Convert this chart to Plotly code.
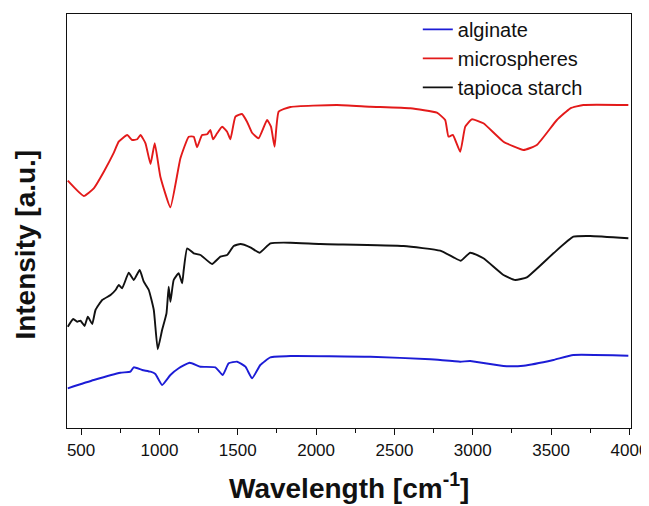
import plotly.graph_objects as go

# Wavenumber (cm-1) and intensity (a.u., arbitrary offset units)
micro_x = [415, 517, 581, 645, 709, 740, 794, 826, 858, 879, 911, 943, 970, 1006, 1070, 1134,
           1187, 1219, 1240, 1272, 1304, 1325, 1342, 1368, 1400, 1432, 1453, 1485, 1527, 1559,
           1591, 1633, 1687, 1712, 1735, 1761, 1836, 2133, 2346, 2601, 2771, 2824, 2845, 2873,
           2920, 2952, 2994, 3068, 3196, 3324, 3409, 3537, 3623, 3706, 3993]
micro_y = [247.3, 232, 239.7, 256.3, 275.3, 286.3, 293, 288, 288.7, 293, 284.7, 264, 284.7,
           251.3, 220.7, 269.7, 291.3, 291.3, 280.7, 293, 293.7, 298, 288.7, 294.7, 301.3,
           296.3, 288.7, 311.3, 314, 306.3, 295.3, 289.7, 308, 301.3, 281.3, 316.3, 321, 323,
           321.3, 319.7, 315.3, 308, 291.3, 293, 276.3, 301.3, 308.7, 304.7, 286.3, 278, 283,
           308, 319.7, 323, 323]

starch_x = [415, 450, 475, 496, 522, 543, 571, 592, 635, 688, 720, 741, 762, 804, 836, 874,
            900, 932, 964, 989, 1017, 1045, 1059, 1070, 1091, 1123, 1145, 1155, 1177, 1219,
            1262, 1336, 1389, 1432, 1474, 1517, 1580, 1640, 1708, 1836, 2027, 2558, 2792,
            2877, 2924, 2984, 3068, 3196, 3271, 3345, 3515, 3642, 3749, 3993]
starch_y = [101.3, 109, 106.3, 107.3, 102, 111.3, 104, 118, 128, 133, 138, 143, 139.7, 155.3,
            148, 158, 146.3, 138, 118, 78.7, 98, 114.7, 141.3, 126.3, 148, 154.7, 144.7, 158,
            179.7, 174.7, 173, 164, 171.3, 173, 182, 184, 180.7, 175.3, 184.7, 185.3, 184, 182,
            177.3, 170.7, 167.3, 175.3, 169.7, 153, 148, 150.7, 174.7, 191.3, 192, 189.7]

alg_x = [415, 581, 751, 815, 836, 890, 943, 974, 1017, 1070, 1123, 1193, 1262, 1357, 1404,
         1442, 1496, 1549, 1591, 1644, 1708, 1836, 2346, 2729, 2920, 2984, 3196, 3324, 3515,
         3642, 3993]
alg_y = [39.7, 48, 55.3, 56.3, 60.7, 58, 56.3, 54, 43, 53, 59.7, 65.3, 61.3, 60.7, 53,
         64.7, 66.3, 61.3, 49.7, 63, 70.7, 72, 71.3, 68.7, 66.3, 67, 62, 62.3, 68, 73, 72.3]

x_ticks = [500, 1000, 1500, 2000, 2500, 3000, 3500, 4000]
x_minor = [750, 1250, 1750, 2250, 2750, 3250, 3750]

fig = go.Figure()
fig.add_trace(go.Scatter(x=alg_x, y=alg_y, mode="lines", name="alginate",
                         line=dict(color="#1c1cd6", width=1.9, shape="spline", smoothing=0.4)))
fig.add_trace(go.Scatter(x=micro_x, y=micro_y, mode="lines", name="microspheres",
                         line=dict(color="#e31a1a", width=1.9, shape="spline", smoothing=0.4)))
fig.add_trace(go.Scatter(x=starch_x, y=starch_y, mode="lines", name="tapioca starch",
                         line=dict(color="#111111", width=1.9, shape="spline", smoothing=0.4)))

# page body has an 8px margin, so the figure is sized/offset to compensate
fig.update_layout(
    width=641, height=498,
    margin=dict(l=59, r=18, t=6, b=78, autoexpand=False),
    paper_bgcolor="white", plot_bgcolor="white",
    font=dict(family="Liberation Sans, Arial, sans-serif", color="#111111"),
    showlegend=True,
    legend=dict(x=0.622, y=1.01, xanchor="left", yanchor="top",
                bgcolor="rgba(0,0,0,0)", font=dict(size=20),
                tracegroupgap=0),
    xaxis=dict(range=[410, 4010], showgrid=False, zeroline=False, automargin=False,
               showline=True, linecolor="#111111", linewidth=1.3, mirror=True,
               ticks="outside", ticklen=6, tickwidth=1.3, tickcolor="#111111",
               tickvals=x_ticks, ticktext=[str(v) for v in x_ticks],
               tickfont=dict(size=17),
               minor=dict(ticks="outside", ticklen=4, tickwidth=1.3, tickcolor="#111111",
                          tickvals=x_minor)),
    yaxis=dict(range=[0, 414], showgrid=False, zeroline=False, automargin=False,
               showline=True, linecolor="#111111", linewidth=1.3, mirror=True,
               showticklabels=False, ticks=""),
    annotations=[
        dict(text="<b>Wavelength [cm<sup>-1</sup>]</b>", xref="paper", yref="paper",
             x=0.5, y=-0.14, xanchor="center", yanchor="middle", showarrow=False,
             font=dict(size=28)),
        dict(text="<b>Intensity [a.u.]</b>", xref="paper", yref="paper",
             x=-0.0727, y=0.443, xanchor="center", yanchor="middle", showarrow=False,
             textangle=-90, font=dict(size=28)),
    ],
)

fig.write_html("out.html")
